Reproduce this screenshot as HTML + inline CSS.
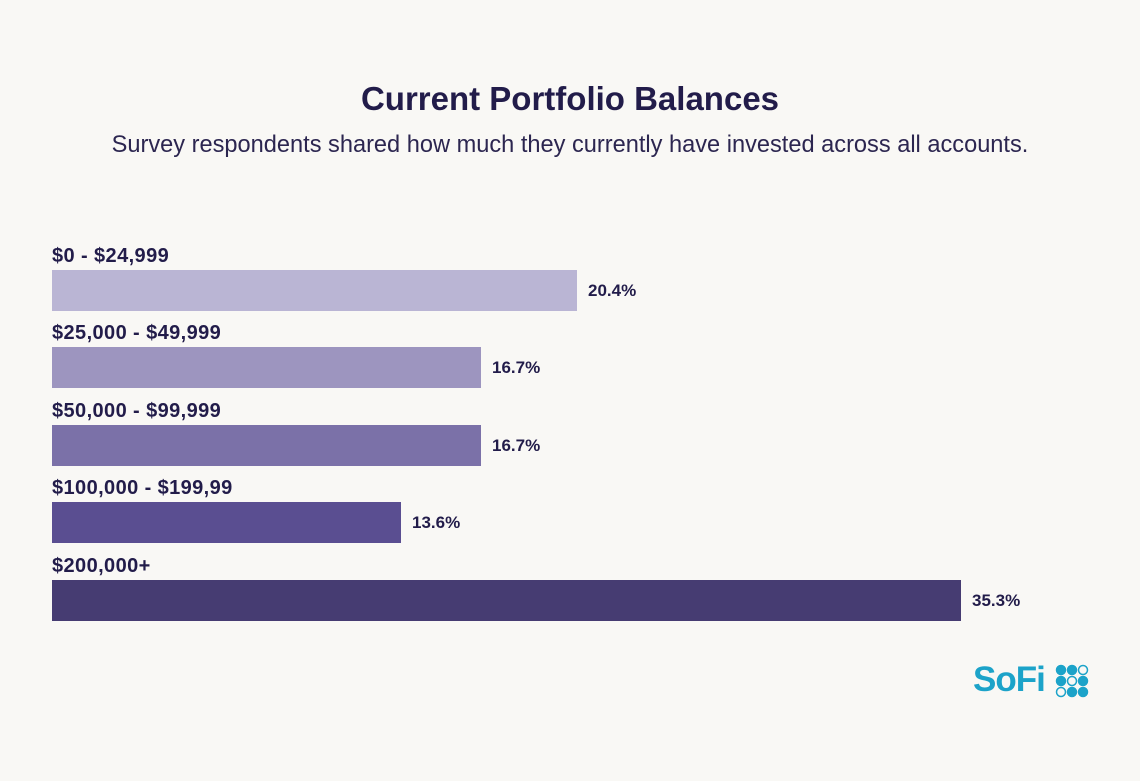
<!DOCTYPE html>
<html><head><style>
body{margin:0;width:1140px;height:781px;background:#f9f8f5;font-family:"Liberation Sans",sans-serif;color:#221c4a;position:relative;overflow:hidden}
.t{position:absolute;left:0;width:1140px;text-align:center}
.l{position:absolute;left:52px;font-weight:bold;font-size:20px;letter-spacing:0.4px}
.b{position:absolute;left:52px;height:41px}
.v{position:absolute;font-weight:bold;font-size:17px}
</style></head><body>
<div class="t" style="top:80px;font-size:33px;font-weight:bold">Current Portfolio Balances</div>
<div class="t" style="top:132px;font-size:23.6px;color:#2c2650">Survey respondents shared how much they currently have invested across all accounts.</div>

<div class="l" style="top:245px">$0 - $24,999</div>
<div class="b" style="top:270px;width:525px;background:#bab5d4"></div>
<div class="v" style="top:281px;left:588px">20.4%</div>

<div class="l" style="top:322px">$25,000 - $49,999</div>
<div class="b" style="top:347px;width:429px;background:#9d95bf"></div>
<div class="v" style="top:358px;left:492px">16.7%</div>

<div class="l" style="top:400px">$50,000 - $99,999</div>
<div class="b" style="top:425px;width:429px;background:#7b71a8"></div>
<div class="v" style="top:436px;left:492px">16.7%</div>

<div class="l" style="top:477px">$100,000 - $199,99</div>
<div class="b" style="top:502px;width:349px;background:#5a4e91"></div>
<div class="v" style="top:513px;left:412px">13.6%</div>

<div class="l" style="top:555px">$200,000+</div>
<div class="b" style="top:580px;width:909px;background:#463c72"></div>
<div class="v" style="top:591px;left:972px">35.3%</div>

<div style="position:absolute;left:973px;top:660px;font-size:35px;font-weight:bold;color:#1ca3c9;letter-spacing:-1px">SoFi</div>
<svg style="position:absolute;left:1055px;top:664px" width="40" height="34">
<g fill="#1ca3c9" stroke="#1ca3c9" stroke-width="1.5">
<circle cx="6" cy="6" r="4.5"/><circle cx="17" cy="6" r="4.5"/><circle cx="28" cy="6" r="4.5" fill="none"/>
<circle cx="6" cy="17" r="4.5"/><circle cx="17" cy="17" r="4.5" fill="none"/><circle cx="28" cy="17" r="4.5"/>
<circle cx="6" cy="28" r="4.5" fill="none"/><circle cx="17" cy="28" r="4.5"/><circle cx="28" cy="28" r="4.5"/>
</g></svg>
</body></html>
